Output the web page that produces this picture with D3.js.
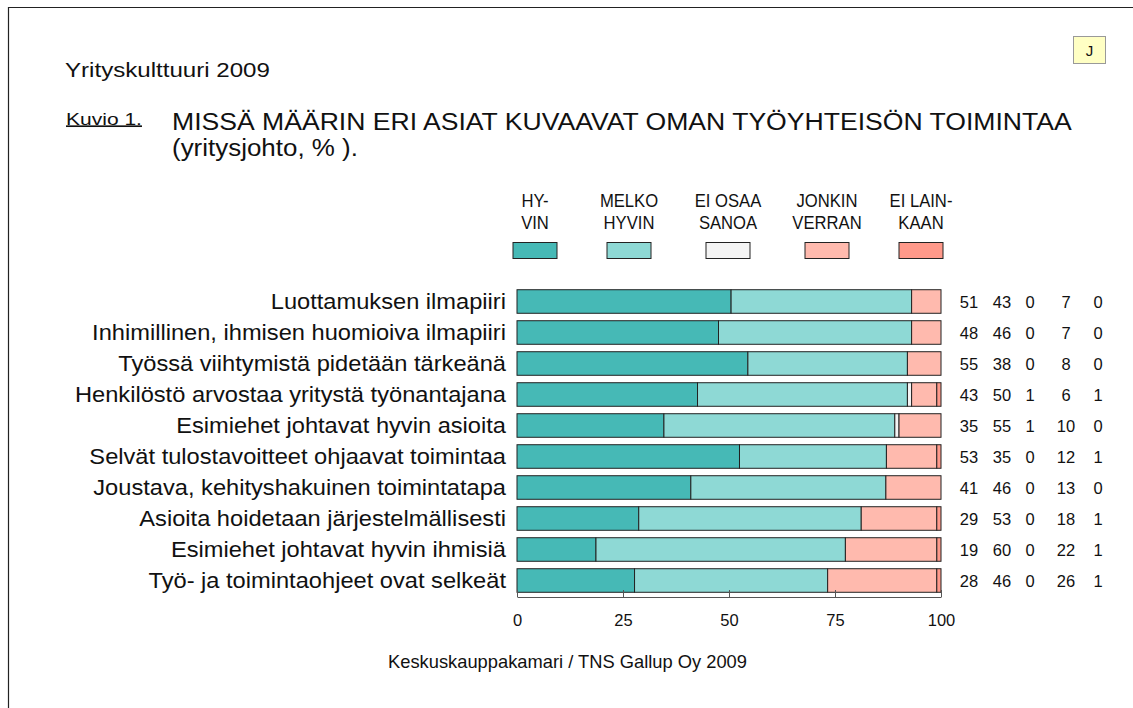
<!DOCTYPE html>
<html>
<head>
<meta charset="utf-8">
<script src="https://cdn.jsdelivr.net/npm/d3@7"></script>
<style>
  html, body { margin: 0; padding: 0; background: #fff; }
  svg { display: block; font-family: "Liberation Sans", Arial, sans-serif; }
</style>
</head>
<body>
<svg id="chart" width="1133" height="708"></svg>
<script>
/* Yrityskulttuuri 2009 — Kuvio 1, stacked 100% bars */

const categories = [
  'Luottamuksen ilmapiiri',
  'Inhimillinen, ihmisen huomioiva ilmapiiri',
  'Työssä viihtymistä pidetään tärkeänä',
  'Henkilöstö arvostaa yritystä työnantajana',
  'Esimiehet johtavat hyvin asioita',
  'Selvät tulostavoitteet ohjaavat toimintaa',
  'Joustava, kehityshakuinen toimintatapa',
  'Asioita hoidetaan järjestelmällisesti',
  'Esimiehet johtavat hyvin ihmisiä',
  'Työ- ja toimintaohjeet ovat selkeät'
];
const seriesKeys = ['hyvin', 'melko', 'eiosaa', 'jonkin', 'eilain'];
const seriesLabels = [['HY-', 'VIN'], ['MELKO', 'HYVIN'], ['EI OSAA', 'SANOA'], ['JONKIN', 'VERRAN'], ['EI LAIN-', 'KAAN']];
const hyvin  = [51, 48, 55, 43, 35, 53, 41, 29, 19, 28];
const melko  = [43, 46, 38, 50, 55, 35, 46, 53, 60, 46];
const eiosaa = [0, 0, 0, 1, 1, 0, 0, 0, 0, 0];
const jonkin = [7, 7, 8, 6, 10, 12, 13, 18, 22, 26];
const eilain = [0, 0, 0, 1, 0, 1, 0, 1, 1, 1];
const xTicks = [0, 25, 50, 75, 100];
const colors = ['#46b9b6', '#8ed9d5', '#f4f4f4', '#ffbaae', '#ff998a'];

const svg = d3.select('#chart');

// the source picture is a bit stretched sideways, so text gets a horizontal scale
function label(g, str, x, y, size, sx, anchor = 'start') {
  return g.append('text')
    .attr('transform', `translate(${x},${y}) scale(${sx},1)`)
    .attr('text-anchor', anchor).attr('font-size', size).attr('fill', '#111')
    .text(str);
}
// stretch a start-anchored text to a measured width
function fitWidth(t, w) {
  const len = t.node().getComputedTextLength();
  const tr = t.attr('transform').replace(/scale\([^)]*\)/, `scale(${(w / len).toFixed(3)},1)`);
  return t.attr('transform', tr);
}

/* ---------- frame ---------- */
svg.append('path').attr('d', 'M8.5 708 V7.5 H1133')
  .attr('fill', 'none').attr('stroke', '#222').attr('stroke-width', 1.2);

/* ---------- titles ---------- */
fitWidth(label(svg, 'Yrityskulttuuri 2009', 65, 77, 19.5, 1), 205);
const kuvio = fitWidth(label(svg, 'Kuvio 1.', 66, 124.5, 16.5, 1), 76);
kuvio.attr('text-decoration', 'underline');
fitWidth(label(svg, 'MISSÄ MÄÄRIN ERI ASIAT KUVAAVAT OMAN TYÖYHTEISÖN TOIMINTAA', 172, 130, 24, 1), 900);
fitWidth(label(svg, '(yritysjohto, % ).', 172, 156, 24, 1), 186);

/* J tag */
svg.append('rect').attr('x', 1073.5).attr('y', 36.5).attr('width', 32).attr('height', 27)
  .attr('fill', '#ffffc4').attr('stroke', '#999');
label(svg, 'J', 1089.5, 56, 15, 1, 'middle');

/* ---------- data table ---------- */
const rows = categories.map((c, i) => ({
  cat: c, hyvin: hyvin[i], melko: melko[i], eiosaa: eiosaa[i], jonkin: jonkin[i], eilain: eilain[i]
}));
// bars are drawn as share of the row total (totals can be 101 due to rounding)
const norm = rows.map(r => {
  const tot = d3.sum(seriesKeys, k => r[k]);
  const o = { cat: r.cat };
  seriesKeys.forEach(k => o[k] = r[k] / tot * 100);
  return o;
});
const stack = d3.stack().keys(seriesKeys)(norm);

/* ---------- scales ---------- */
const x = d3.scaleLinear().domain([0, 100]).range([517, 941]);
const y = d3.scaleBand().domain(categories).range([286, 596]).paddingInner(0.24).paddingOuter(0.12);

/* ---------- bars ---------- */
svg.append('g').selectAll('g').data(stack).join('g')
  .attr('fill', (d, i) => colors[i])
  .selectAll('rect').data(d => d).join('rect')
  .attr('x', d => x(d[0]))
  .attr('y', d => y(d.data.cat))
  .attr('width', d => Math.max(0, x(d[1]) - x(d[0])))
  .attr('height', y.bandwidth())
  .attr('stroke', '#222').attr('stroke-width', 1);

/* category labels */
const catG = svg.append('g');
categories.forEach(c => label(catG, c, 506, y(c) + y.bandwidth() / 2 + 7.5, 21.5, 1.1, 'end'));

/* value columns */
const colX = [969, 1002, 1030, 1066, 1098];
const valG = svg.append('g');
rows.forEach(r => {
  seriesKeys.forEach((k, j) => label(valG, r[k], colX[j], y(r.cat) + y.bandwidth() / 2 + 6, 16.5, 1, 'middle'));
});

/* ---------- axis ---------- */
const axis = svg.append('g').attr('transform', 'translate(0,597)')
  .call(d3.axisBottom(x).tickValues(xTicks).tickSize(7).tickSizeOuter(0));
axis.select('.domain').attr('stroke', '#555');
axis.selectAll('.tick line').attr('stroke', '#555').attr('transform', 'translate(0,-7)');
axis.selectAll('.tick text').attr('font-size', 16.5).attr('font-family', '"Liberation Sans", Arial, sans-serif')
  .attr('fill', '#111').attr('dy', 0).attr('y', 29);

/* ---------- legend ---------- */
const legX = [535, 629, 728, 827, 921];
const leg = svg.append('g').selectAll('g').data(seriesKeys).join('g')
  .attr('transform', (d, i) => `translate(${legX[i]},0)`);
leg.append('rect').attr('x', -22).attr('y', 242.5).attr('width', 44).attr('height', 16)
  .attr('fill', (d, i) => colors[i]).attr('stroke', '#222');
leg.each(function (d, i) {
  const g = d3.select(this);
  seriesLabels[i].forEach((t, l) => label(g, t, 0, 207 + l * 21.5, 18.5, 0.9, 'middle'));
});

/* ---------- source ---------- */
const src = label(svg, 'Keskuskauppakamari / TNS Gallup Oy 2009', 388, 668, 17.5, 1);
fitWidth(src, 359);
</script>
</body>
</html>
